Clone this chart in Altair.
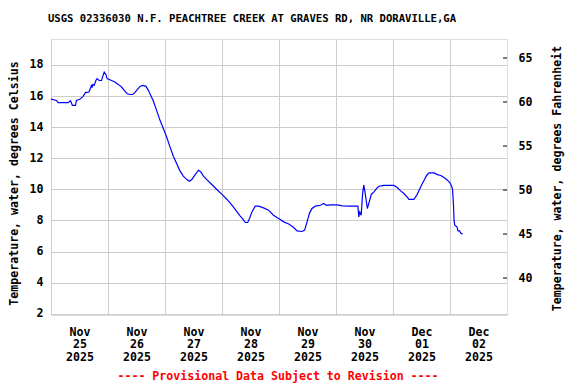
import altair as alt
import pandas as pd

# hours since 2025-11-25 00:00 (local)
hours = [0, 2.3, 3.0, 7.2, 8.2, 8.6, 9.0, 10.3, 10.7, 12.1, 13.5, 14.5, 16.0, 16.8, 17.1, 17.3,
         17.7, 18.2, 18.9, 19.4, 20.3, 21.3, 21.7, 22.4, 23.1, 23.6, 25.5, 26.9, 28.3, 29.7, 31.1,
         32.1, 33.2, 34.4, 35.3, 36.3, 37.5, 38.6, 39.9, 41.0, 42.0, 43.1, 44.2, 45.9, 47.3, 48.7,
         50.1, 51.5, 52.9, 54.3, 55.7, 57.2, 58.3, 59.3, 60.7, 62.1, 63.1, 64.2, 65.6, 67.7, 69.8,
         71.9, 74.1, 76.2, 78.0, 79.7, 81.1, 81.8, 82.8, 83.6, 84.6, 86.0, 87.4, 89.5, 91.6, 93.7,
         95.8, 98.0, 100.1, 102.2, 103.6, 105.7, 106.8, 107.8, 108.9, 109.9, 111.3, 113.5, 114.8,
         116.0, 117.7, 120.5, 122.6, 125.4, 129.2, 129.6, 130.0, 130.6, 131.2, 131.7, 132.2, 133.2,
         134.0, 134.9, 136.0, 137.1, 138.1, 140.2, 144.4, 145.8, 147.2, 148.6, 150.1, 150.7, 152.8,
         154.0, 155.0, 156.0, 157.1, 158.2, 159.2, 161.3, 162.7, 164.1, 165.5, 166.9, 168.0, 168.8,
         169.1, 169.5, 169.7, 170.0, 170.9, 171.4, 172.0, 172.6, 173.3]
temp_c = [15.8, 15.72, 15.58, 15.58, 15.7, 15.55, 15.4, 15.4, 15.72, 15.79, 15.98, 16.22, 16.26,
          16.58, 16.73, 16.54, 16.75, 16.69, 17.0, 17.12, 17.0, 17.0, 17.22, 17.54, 17.39, 17.12,
          17.0, 16.9, 16.75, 16.58, 16.32, 16.15, 16.1, 16.1, 16.22, 16.41, 16.62, 16.69, 16.64,
          16.37, 16.04, 15.68, 15.19, 14.44, 13.91, 13.37, 12.73, 12.13, 11.66, 11.19, 10.85, 10.63,
          10.52, 10.63, 10.95, 11.23, 11.12, 10.85, 10.63, 10.31, 9.99, 9.69, 9.35, 8.98, 8.62, 8.28,
          8.02, 7.87, 7.87, 8.13, 8.55, 8.92, 8.92, 8.81, 8.66, 8.34, 8.13, 7.91, 7.77, 7.55, 7.33,
          7.29, 7.38, 7.91, 8.49, 8.77, 8.92, 8.98, 9.09, 8.97, 9.0, 9.0, 8.94, 8.92, 8.92, 8.23,
          8.55, 8.34, 9.73, 10.27, 9.84, 8.77, 9.2, 9.69, 9.84, 10.06, 10.2, 10.25, 10.25, 10.12,
          9.9, 9.73, 9.48, 9.35, 9.35, 9.63, 9.95, 10.27, 10.59, 10.91, 11.06, 11.06, 10.95, 10.89,
          10.76, 10.59, 10.42, 10.16, 9.95, 8.88, 8.02, 7.7, 7.59, 7.33, 7.33, 7.17, 7.12]

day_ticks = [(2025, 11, 25), (2025, 11, 26), (2025, 11, 27), (2025, 11, 28), (2025, 11, 29),
             (2025, 11, 30), (2025, 12, 1), (2025, 12, 2)]
c_ticks = [2, 4, 6, 8, 10, 12, 14, 16, 18]
f_ticks = [40, 45, 50, 55, 60, 65]

title_text = "USGS 02336030 N.F. PEACHTREE CREEK AT GRAVES RD, NR DORAVILLE,GA"
left_title = "Temperature, water, degrees Celsius"
right_title = "Temperature, water, degrees Fahrenheit"
note = "---- Provisional Data Subject to Revision ----"

n = min(len(hours), len(temp_c))
base = pd.Timestamp("2025-11-25 00:00:00")
df = pd.DataFrame({
    "time": [base + pd.Timedelta(hours=h) for h in hours[:n]],
    "temp": temp_c[:n],
})
fdf = pd.DataFrame({"f": f_ticks})

W, H = 456, 276
FONT = "DejaVu Sans Mono"
LS = 11.6

c_domain = [1.92, 19.67]
f_domain = [35.8, 67.16]

x_enc = alt.X(
    "time:T",
    scale=alt.Scale(domain=[alt.DateTime(year=2025, month=11, date=25),
                            alt.DateTime(year=2025, month=12, date=3)]),
    axis=alt.Axis(
        values=[alt.DateTime(year=y, month=m, date=d) for (y, m, d) in day_ticks],
        labelExpr="[timeFormat(datum.value, '%b'), timeFormat(datum.value, '%d'), timeFormat(datum.value, '%Y')]",
        labelOffset=28.5, labelAlign="center", labelBaseline="top",
        labelLineHeight=12.7, labelPadding=11, ticks=False, tickSize=0, domain=False,
        labelOverlap=False, labelBound=False, labelFlush=False,
        grid=True, gridColor="#cccccc", gridWidth=1,
        labelFont=FONT, labelFontSize=LS, labelFontWeight="bold", labelColor="black",
        title=note, titleColor="#ff0000", titleFont=FONT, titleFontSize=LS, titleFontWeight="bold",
        titleY=64, titleBaseline="alphabetic", titleX=W / 2 - 1.5, titleAlign="center",
    ),
)

line = alt.Chart(df).mark_line(color="#0000ff", strokeWidth=1.2, interpolate="linear").encode(
    x=x_enc,
    y=alt.Y("temp:Q", scale=alt.Scale(domain=c_domain, nice=False, zero=False),
            axis=alt.Axis(values=c_ticks, orient="left", ticks=False, tickSize=0, domain=False,
                          labelPadding=8, grid=True, gridColor="#cccccc", gridWidth=1,
                          labelFont=FONT, labelFontSize=LS, labelFontWeight="bold", labelColor="black",
                          title=left_title, titleFont=FONT, titleFontSize=LS, titleFontWeight="bold",
                          titleColor="black", titleAngle=270, titleX=-37, titleY=144,
                          titleAlign="center", titleBaseline="middle")),
)

fticks = alt.Chart(fdf).mark_rule(color="black", strokeWidth=1).encode(
    x=alt.value(W - 4), x2=alt.value(W),
    y=alt.Y("f:Q", scale=alt.Scale(domain=f_domain, nice=False, zero=False),
            axis=alt.Axis(values=f_ticks, orient="right", ticks=False, tickSize=0, domain=False,
                          labelPadding=11, grid=False,
                          labelFont=FONT, labelFontSize=LS, labelFontWeight="bold", labelColor="black",
                          title=right_title, titleFont=FONT, titleFontSize=LS, titleFontWeight="bold",
                          titleColor="black", titleAngle=270, titleX=50, titleY=139,
                          titleAlign="center", titleBaseline="middle")),
)

chart = alt.layer(line, fticks).resolve_scale(y="independent").properties(
    width=W, height=H,
    title=alt.TitleParams(title_text, font=FONT, fontSize=10.6, fontWeight="bold", color="black",
                          anchor="middle", dx=-27, offset=14),
    autosize=alt.AutoSizeParams(type="none"),
    padding={"left": 43, "top": 31, "right": 61, "bottom": 72},
).configure_view(stroke="black", strokeWidth=1).configure(background="white")

chart.save("out.html", embed_options={"renderer": "svg", "actions": False})
